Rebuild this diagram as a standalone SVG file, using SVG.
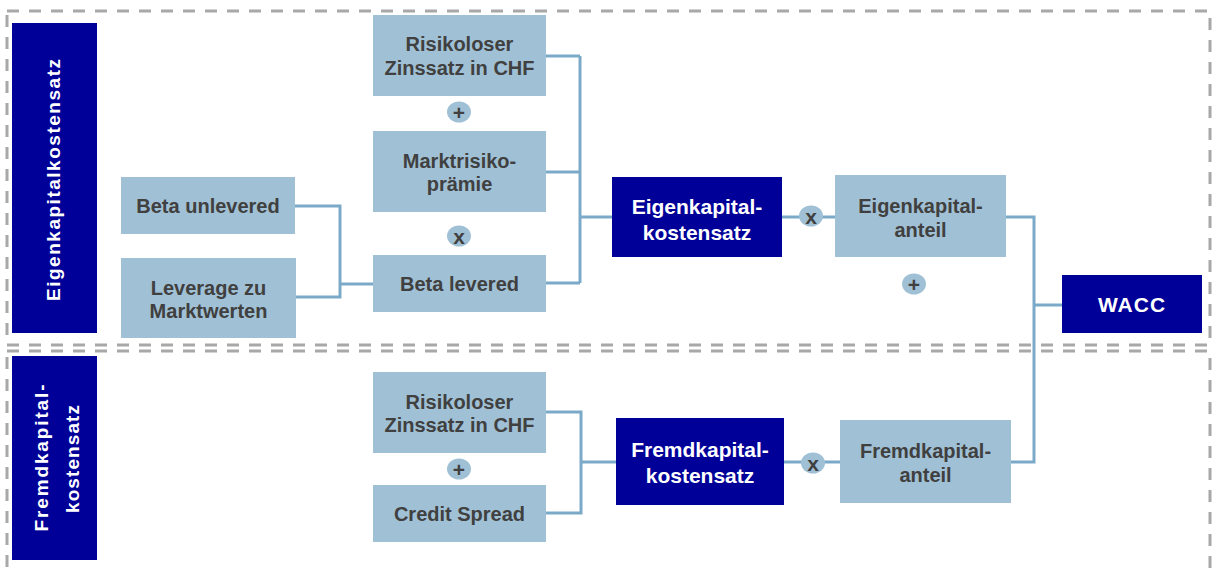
<svg xmlns="http://www.w3.org/2000/svg" width="1212" height="570" viewBox="0 0 1212 570">
<style>
.frame{fill:none;stroke:#A8A8A8;stroke-width:3;stroke-dasharray:12 10}
.lbl{fill:#000099}
.lblt{fill:#fff;font-family:"Liberation Sans",Arial,sans-serif;font-weight:bold;font-size:19px;text-anchor:middle}
.n rect{fill:#A0C1D5}
.n text{fill:#404040;font-family:"Liberation Sans",Arial,sans-serif;font-weight:bold;font-size:20px;text-anchor:middle}
.d rect{fill:#000099}
.d text{fill:#fff;font-family:"Liberation Sans",Arial,sans-serif;font-weight:bold;font-size:21px;text-anchor:middle}
.op ellipse{fill:#A0C1D5}
.op text{fill:#404040;font-family:"Liberation Sans",Arial,sans-serif;font-weight:bold;font-size:21px;text-anchor:middle}
.c{fill:none;stroke:#7AAAC8;stroke-width:3}
</style>
<rect class="frame" x="7" y="11" width="1203" height="334"/>
<rect class="frame" x="7" y="351" width="1203" height="236"/>
<g id="label-ek">
<rect class="lbl" x="12" y="23" width="85" height="310"/>
<text class="lblt" transform="translate(59.5,180) rotate(-90)" textLength="242" lengthAdjust="spacing">Eigenkapitalkostensatz</text>
</g>
<g id="label-fk">
<rect class="lbl" x="12" y="356" width="85" height="204"/>
<text class="lblt" transform="translate(47.5,458) rotate(-90)" textLength="147" lengthAdjust="spacing">Fremdkapital-</text>
<text class="lblt" transform="translate(78.5,459) rotate(-90)" textLength="108" lengthAdjust="spacing">kostensatz</text>
</g>
<g id="connectors">
<path class="c" d="M546,56 H580 M546,172 H580 M546,283 H580 M580,56 V283 M580,217 H612"/>
<path class="c" d="M295,206 H340 V297 H296 M340,284 H373"/>
<path class="c" d="M782,217 H835"/>
<path class="c" d="M1006,217 H1034 V462 H1011 M1034,305 H1062"/>
<path class="c" d="M546,412 H581 V513 H546 M581,462 H616"/>
<path class="c" d="M784,462 H840"/>
</g>
<g id="n-rf-ek" class="n"><rect x="373" y="15" width="173" height="81"/><text x="459.5" y="51">Risikoloser</text><text x="459.5" y="75">Zinssatz in CHF</text></g>
<g id="n-mrp" class="n"><rect x="373" y="131" width="173" height="81"/><text x="459.5" y="168">Marktrisiko-</text><text x="459.5" y="191">prämie</text></g>
<g id="n-beta-l" class="n"><rect x="373" y="255" width="173" height="57"/><text x="459.5" y="291">Beta levered</text></g>
<g id="n-beta-u" class="n"><rect x="121" y="177" width="174" height="57"/><text x="208" y="213">Beta unlevered</text></g>
<g id="n-lev" class="n"><rect x="121" y="258" width="175" height="80"/><text x="208.5" y="295">Leverage zu</text><text x="208.5" y="318">Marktwerten</text></g>
<g id="n-ekk" class="d"><rect x="612" y="177" width="170" height="80"/><text x="697" y="214">Eigenkapital-</text><text x="697" y="240">kostensatz</text></g>
<g id="n-eka" class="n"><rect x="835" y="175" width="171" height="82"/><text x="920.5" y="213">Eigenkapital-</text><text x="920.5" y="237">anteil</text></g>
<g id="n-wacc" class="d"><rect x="1062" y="275" width="140" height="58"/><text x="1132" y="312" letter-spacing="1">WACC</text></g>
<g id="n-rf-fk" class="n"><rect x="373" y="372" width="173" height="81"/><text x="459.5" y="409">Risikoloser</text><text x="459.5" y="432">Zinssatz in CHF</text></g>
<g id="n-cs" class="n"><rect x="373" y="485" width="173" height="57"/><text x="459.5" y="521">Credit Spread</text></g>
<g id="n-fkk" class="d"><rect x="616" y="418" width="168" height="87"/><text x="700" y="457">Fremdkapital-</text><text x="700" y="483">kostensatz</text></g>
<g id="n-fka" class="n"><rect x="840" y="420" width="171" height="83"/><text x="925.5" y="458">Fremdkapital-</text><text x="925.5" y="482">anteil</text></g>
<g id="op1" class="op"><ellipse cx="459" cy="112" rx="12" ry="10.5"/><text x="459" y="120">+</text></g>
<g id="op2" class="op"><ellipse cx="459" cy="236" rx="12" ry="10.5"/><text x="459" y="244">x</text></g>
<g id="op3" class="op"><ellipse cx="811" cy="216" rx="12" ry="10.5"/><text x="811" y="224">x</text></g>
<g id="op4" class="op"><ellipse cx="914" cy="284" rx="12" ry="10.5"/><text x="914" y="292">+</text></g>
<g id="op5" class="op"><ellipse cx="459" cy="469" rx="12" ry="10.5"/><text x="459" y="477">+</text></g>
<g id="op6" class="op"><ellipse cx="813" cy="463" rx="12" ry="10.5"/><text x="813" y="471">x</text></g>
</svg>
